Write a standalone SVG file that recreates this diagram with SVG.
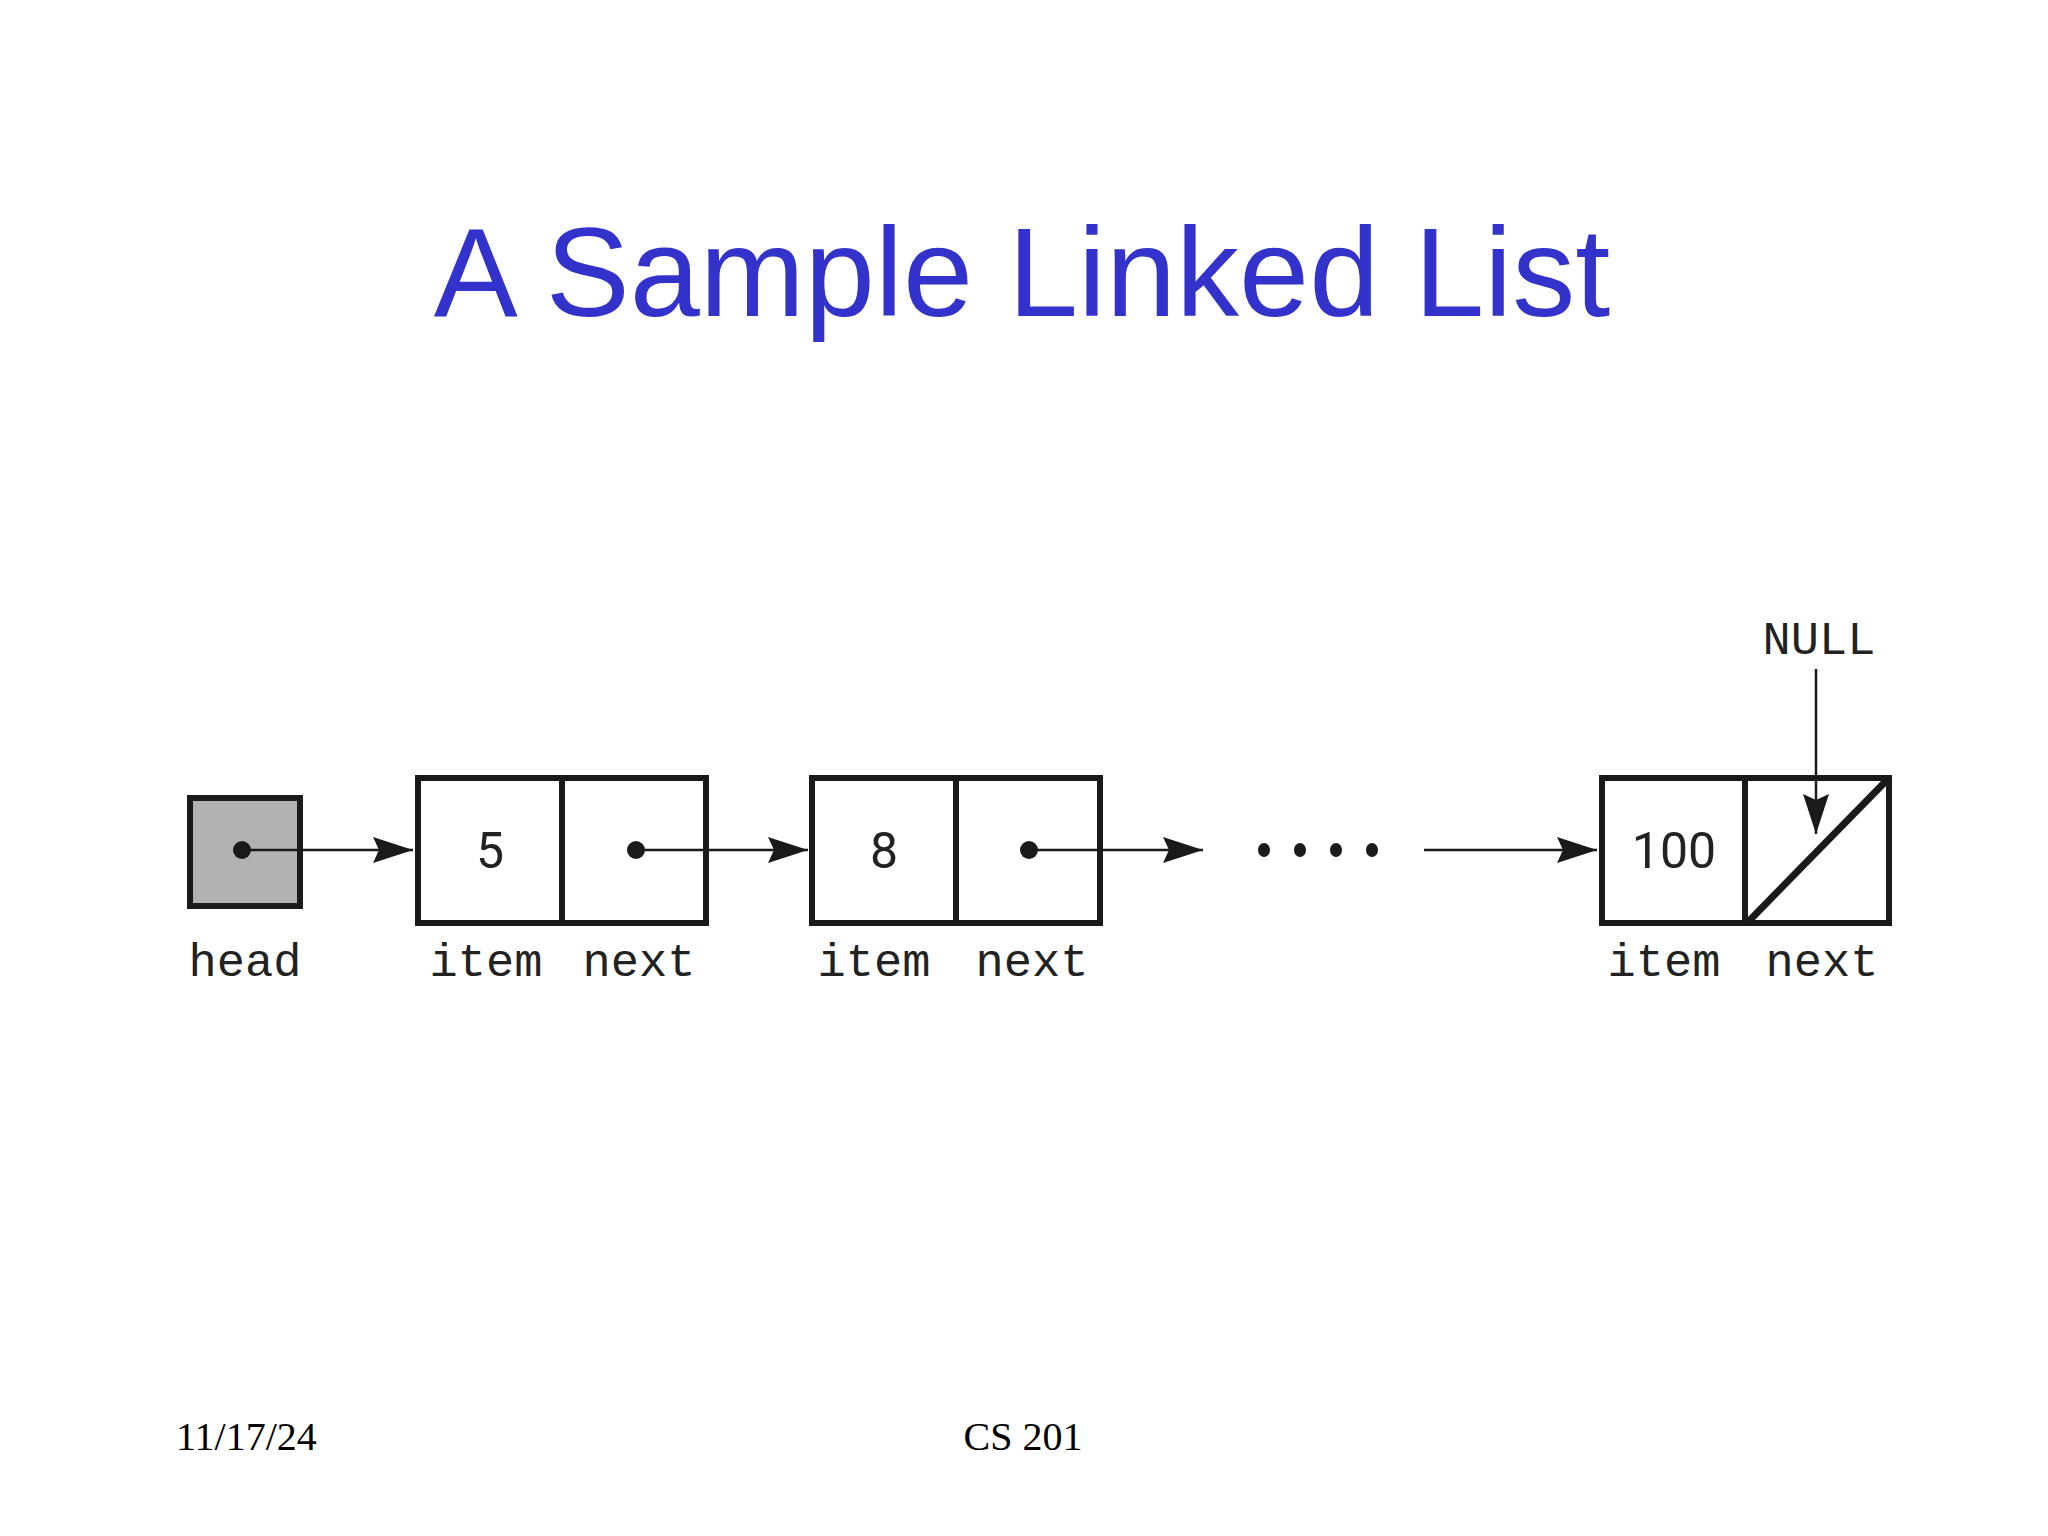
<svg xmlns="http://www.w3.org/2000/svg" width="2048" height="1536" viewBox="0 0 2048 1536">
<defs>
<style>
.box{fill:#fff;stroke:#1a1a1a;stroke-width:6}
.div{stroke:#1a1a1a;stroke-width:6}
.ln{stroke:#1a1a1a;stroke-width:2.5;fill:none}
.lbl{font-family:"Liberation Mono","Courier New",monospace;font-size:47px;fill:#222;text-anchor:middle}
.num{font-family:Roboto,"Open Sans",sans-serif;font-size:50px;fill:#222;text-anchor:middle}
.foot{font-family:"Liberation Serif","Times New Roman",serif;font-size:40px;fill:#000}
</style>
<marker id="ah" viewBox="0 0 40 30" refX="40" refY="15" markerWidth="40" markerHeight="30" markerUnits="userSpaceOnUse" orient="auto">
<path d="M0,2 L40,15 L0,28 L6,15 Z" fill="#1a1a1a"/>
</marker>
</defs>
<rect width="2048" height="1536" fill="#fff"/>
<text x="1022" y="316" font-family="Liberation Sans, Arial, sans-serif" font-size="126" fill="#3333CC" text-anchor="middle">A Sample Linked List</text>

<g id="head">
<rect x="190" y="798" width="110" height="108" fill="#b1b2b4" stroke="#1a1a1a" stroke-width="6"/>
<circle cx="242" cy="850" r="9" fill="#1a1a1a"/>
<text class="lbl" x="245" y="976">head</text>
</g>

<g id="node1">
<rect class="box" x="418" y="778" width="288" height="145"/>
<line class="div" x1="562" y1="778" x2="562" y2="923"/>
<text class="num" x="490" y="868">5</text>
<circle cx="636" cy="850" r="9" fill="#1a1a1a"/>
<text class="lbl" x="486" y="976">item</text>
<text class="lbl" x="639" y="976">next</text>
</g>

<g id="node2">
<rect class="box" x="812" y="778" width="288" height="145"/>
<line class="div" x1="956" y1="778" x2="956" y2="923"/>
<text class="num" x="884" y="868">8</text>
<circle cx="1029" cy="850" r="9" fill="#1a1a1a"/>
<text class="lbl" x="874" y="976">item</text>
<text class="lbl" x="1032" y="976">next</text>
</g>

<g id="ellipsis" fill="#1a1a1a">
<ellipse cx="1264" cy="850" rx="6" ry="7"/>
<ellipse cx="1300" cy="850" rx="6" ry="7"/>
<ellipse cx="1336" cy="850" rx="6" ry="7"/>
<ellipse cx="1372" cy="850" rx="6" ry="7"/>
</g>

<g id="node3">
<rect class="box" x="1602" y="778" width="287" height="145"/>
<line class="div" x1="1745" y1="778" x2="1745" y2="923"/>
<line x1="1748" y1="922" x2="1886" y2="781" stroke="#1a1a1a" stroke-width="7"/>
<text class="num" x="1674" y="868">100</text>
<text class="lbl" x="1664" y="976">item</text>
<text class="lbl" x="1822" y="976">next</text>
</g>

<g id="null">
<text class="lbl" x="1819" y="654">NULL</text>
</g>

<g id="connectors">
<line class="ln" x1="242" y1="850" x2="413" y2="850" marker-end="url(#ah)"/>
<line class="ln" x1="636" y1="850" x2="808" y2="850" marker-end="url(#ah)"/>
<line class="ln" x1="1029" y1="850" x2="1203" y2="850" marker-end="url(#ah)"/>
<line class="ln" x1="1424" y1="850" x2="1597" y2="850" marker-end="url(#ah)"/>
<line class="ln" x1="1816" y1="669" x2="1816" y2="834" marker-end="url(#ah)"/>
</g>

<text class="foot" x="176" y="1450">11/17/24</text>
<text class="foot" x="1023" y="1450" text-anchor="middle">CS 201</text>
</svg>
